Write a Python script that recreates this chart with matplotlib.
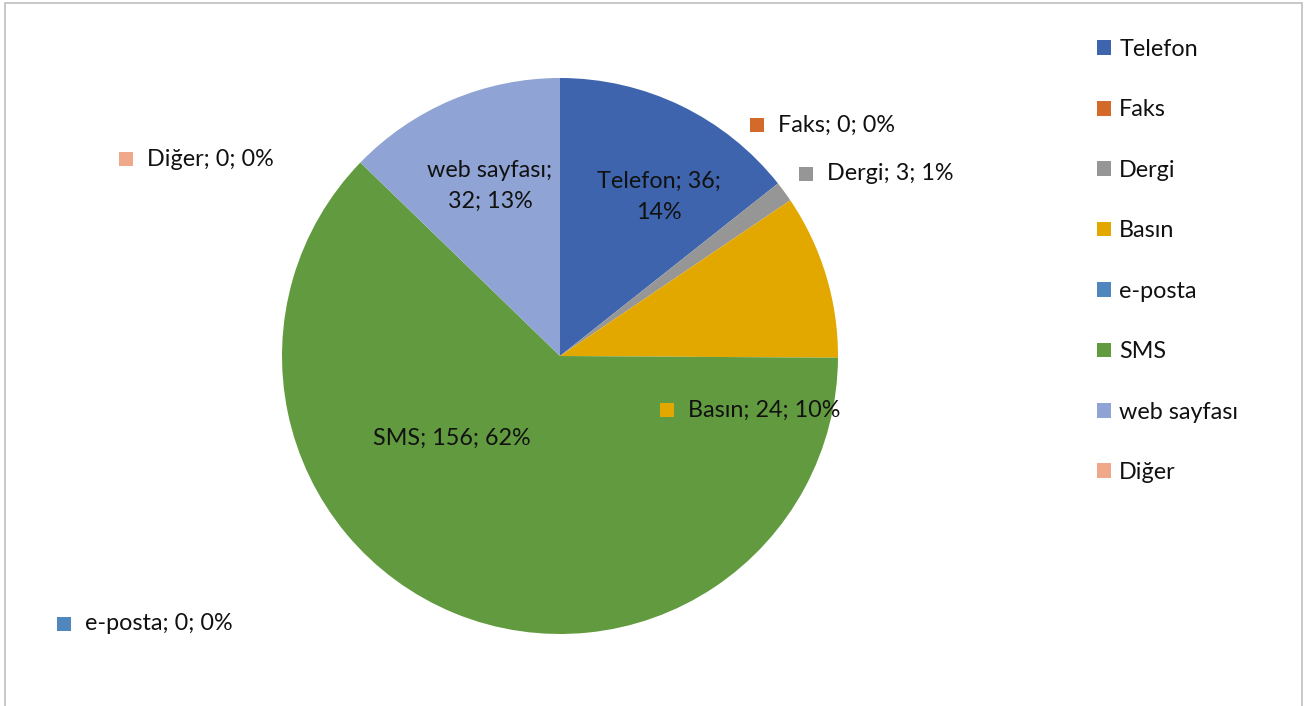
import matplotlib
matplotlib.use("Agg")
import matplotlib.pyplot as plt
from matplotlib.patches import Rectangle

# data
categories = ["Telefon", "Faks", "Dergi", "Basın", "e-posta", "SMS", "web sayfası", "Diğer"]
values = [36, 0, 3, 24, 0, 156, 32, 0]
colors = ["#3D64AD", "#D46A2A", "#969696", "#E3A800", "#4F86BD", "#629B3F", "#8FA4D4", "#F0A88A"]

plt.rcParams["font.family"] = ["Lato", "DejaVu Sans"]
FS = 16.8

W, H = 1306, 706
fig = plt.figure(figsize=(W / 100, H / 100), dpi=100)
ax = fig.add_axes([0, 0, 1, 1])

# pie in pixel coordinates: centre (560, 356 from top), radius 278
wedges, _ = ax.pie(values, colors=colors, startangle=90, counterclock=False,
                   center=(560, H - 356), radius=278, frame=True)
ax.set_xlim(0, W)
ax.set_ylim(0, H)
ax.set_aspect("equal")
ax.axis("off")

total = sum(values)
labels = [f"{c}; {v}; {round(100 * v / total)}%" for c, v in zip(categories, values)]

# label layout: (x, y from top, inside wedge?, multiline text override)
layout = {
    "Telefon": (659, 197, True, "Telefon; 36;\n14%"),
    "Faks": (778, 125, False, None),
    "Dergi": (827, 174, False, None),
    "Basın": (688, 410, False, None),
    "e-posta": (85, 624, False, None),
    "SMS": (452, 438, True, None),
    "web sayfası": (490, 186, True, "web sayfası;\n32; 13%"),
    "Diğer": (147, 159, False, None),
}
for c, lab, col in zip(categories, labels, colors):
    x, y, inside, override = layout[c]
    txt = override if override else lab
    if inside:
        ax.text(x, H - y, txt, ha="center", va="center", fontsize=FS,
                color="#111111", linespacing=1.55)
    else:
        ax.add_patch(Rectangle((x - 28, H - y - 7), 14, 14, color=col, lw=0))
        ax.text(x, H - y, txt, ha="left", va="center", fontsize=FS, color="#111111")

# legend
leg = fig.legend(wedges, categories, loc="upper left", bbox_to_anchor=(1076 / W, 1 - 18 / H),
                 frameon=False, fontsize=FS, handlelength=0.6, handleheight=0.6,
                 handletextpad=0.35, labelspacing=1.69)
for t in leg.get_texts():
    t.set_color("#111111")

# outer chart frame
fig.patches.append(Rectangle((5 / W, -0.01), 1297 / W, 1 - 3 / H + 0.01,
                             transform=fig.transFigure, fill=False,
                             edgecolor="#BFBFBF", lw=1.2))

fig.savefig("out.png", dpi=100)
